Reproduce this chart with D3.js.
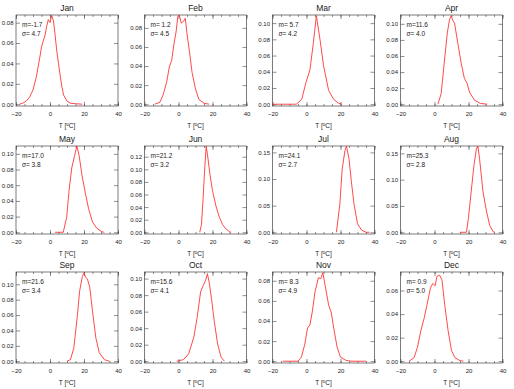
<!DOCTYPE html>
<html>
<head>
<meta charset="utf-8">
<script src="https://cdn.jsdelivr.net/npm/d3@7"></script>
<style>
  body { margin: 0; background: #fff; }
  svg { display: block; }
  text { font-family: "Liberation Sans", Arial, sans-serif; fill: #222; }
</style>
</head>
<body>
<div id="chart"></div>
<script>
// Monthly temperature PDFs.
var months = ['Jan', 'Feb', 'Mar', 'Apr', 'May', 'Jun', 'Jul', 'Aug', 'Sep', 'Oct', 'Nov', 'Dec'];
var means  = [-1.7, 1.2, 5.7, 11.6, 17.0, 21.2, 24.1, 25.3, 21.6, 15.6, 8.3, 0.9];
var sigmas = [4.7, 4.5, 4.2, 4.0, 3.8, 3.2, 2.7, 2.8, 3.4, 4.1, 4.9, 5.0];

// y axis range (top) and tick step for each panel
var yTops  = [0.0875, 0.0935, 0.110, 0.111, 0.110, 0.137, 0.162, 0.164, 0.116, 0.108, 0.0887, 0.0757];
var ySteps = [0.02, 0.02, 0.02, 0.02, 0.02, 0.02, 0.05, 0.05, 0.02, 0.02, 0.02, 0.02];
var xTicks = [-20, 0, 20, 40];

var jan = [[-18,0],[-16,0.001],[-14,0.003],[-12,0.007],[-10,0.014],[-8,0.027],[-6,0.046],[-5,0.056],
  [-4,0.062],[-3,0.067],[-2,0.076],[-1,0.083],[0,0.080],[1,0.087],[2,0.082],[3,0.068],[4,0.052],
  [5,0.040],[6,0.028],[7,0.017],[8,0.009],[10,0.003],[12,0.001],[15,0.0005],[19,0]];
var feb = [[-14,0],[-11,0.002],[-9,0.010],[-7,0.023],[-5.4,0.039],[-4,0.046],[-2.6,0.064],[-1.4,0.076],
  [-0.4,0.092],[0.4,0.094],[1.6,0.085],[3,0.087],[4,0.090],[5,0.074],[6.6,0.053],[8,0.033],
  [10,0.016],[12,0.005],[15,0.001],[18,0]];
var mar = [[-20,0],[-6,0],[-2.8,0.006],[-0.3,0.027],[2,0.042],[4,0.075],[5.8,0.109],[8,0.079],
  [10,0.048],[13,0.017],[16,0.006],[19,0.001],[21,0]];
var apr = [[2,0],[3.9,0.013],[5.9,0.055],[7.5,0.088],[8.8,0.105],[9.8,0.110],[10.8,0.104],[11.8,0.101],
  [13.7,0.076],[15.7,0.051],[17.6,0.032],[19.2,0.026],[20.6,0.015],[23.5,0.005],[27,0.001],[31,0]];
var may = [[3,0],[7.8,0],[9.8,0.019],[11.2,0.053],[12.8,0.082],[14.4,0.097],[15.8,0.110],[17.2,0.097],
  [18.7,0.074],[20.7,0.051],[22.7,0.030],[25,0.013],[27.6,0.005],[30.6,0.0005],[32,0]];
var jun = [[12.5,0],[13.5,0.012],[14.5,0.055],[15.5,0.105],[16.3,0.137],[17.3,0.118],[18.5,0.092],
  [20,0.066],[22,0.042],[24,0.024],[26,0.012],[28,0.005],[30,0.001],[31,0]];
var jul = [[17.6,0],[19.6,0.052],[21,0.119],[22.6,0.153],[23.5,0.162],[25,0.138],[26.4,0.095],
  [28,0.052],[30,0.016],[32.4,0.004],[35,0],[37,0]];
var aug = [[15,0],[18.8,0],[20,0.028],[21.6,0.078],[23.2,0.127],[24.6,0.158],[25.5,0.164],[26.5,0.140],
  [28.5,0.078],[30.5,0.041],[32.5,0.013],[34.5,0.001],[35.5,0]];
var sep = [[10,0],[12,0.002],[14,0.017],[16,0.057],[17.4,0.091],[19,0.110],[20,0.115],[21,0.109],
  [22,0.107],[23.4,0.096],[25,0.065],[27,0.030],[29,0.011],[32,0.002],[35,0]];
var oct = [[-1,0],[3,0.002],[6,0.009],[9,0.029],[11,0.053],[13,0.084],[14.6,0.092],[16,0.098],
  [17,0.106],[18,0.096],[19.4,0.076],[21,0.049],[23,0.021],[25,0.005],[27,0]];
var nov = [[-14,0],[-5,0],[-3,0.004],[-1,0.017],[0.6,0.033],[2,0.036],[3.4,0.049],[5,0.069],[7,0.083],
  [8.4,0.082],[9.6,0.088],[11,0.075],[13,0.056],[14.6,0.048],[16,0.033],[18,0.014],[20,0.004],
  [23,0.001],[26,0],[35,0]];
var dec = [[-15,0],[-12,0.003],[-10,0.012],[-8,0.026],[-6,0.037],[-4.4,0.048],[-2.4,0.062],[-1,0.066],
  [0.4,0.064],[1.4,0.072],[3,0.073],[4.4,0.069],[6,0.048],[8,0.026],[10,0.009],[12,0.003],
  [15,0.0005],[17,0]];
var series = [jan, feb, mar, apr, may, jun, jul, aug, sep, oct, nov, dec];

var WIDTH = 514, HEIGHT = 389;
var colLeft = [16, 144.5, 272.5, 400.5];
var rowTop = [15, 146, 272];
var rowH = [91, 88, 91];
var BOX_W = 102;
var LINE_COLOR = '#ff3535';

var svg = d3.select('#chart').append('svg')
    .attr('width', WIDTH)
    .attr('height', HEIGHT);

var pad4 = function(v) {
    var s = v.toFixed(1);
    while (s.length < 4) s = ' ' + s;
    return s;
};

months.forEach(function(name, i) {
    var col = i % 4, row = Math.floor(i / 4);
    var left = colLeft[col], top = rowTop[row], h = rowH[row];
    var yTop = yTops[i], step = ySteps[i];

    var x = d3.scaleLinear().domain([-20, 40]).range([0, BOX_W]);
    var y = d3.scaleLinear().domain([-0.02 * yTop, yTop]).range([h, 0]);

    var g = svg.append('g').attr('transform', 'translate(' + left + ',' + top + ')');

    var yVals = d3.range(0, yTop + 1e-9, step);
    var xMinor = d3.range(-20, 40.1, 5);

    // Axes: ticks point inward, like the original plot
    var styleAxis = function(sel) {
        sel.select('.domain').remove();
        sel.selectAll('line').attr('stroke', '#444').attr('stroke-width', 0.6);
        sel.selectAll('text')
            .style('font-size', '6px')
            .style('font-family', '"Liberation Sans", Arial, sans-serif')
            .attr('fill', '#333');
    };

    g.append('g').attr('transform', 'translate(0,' + h + ')')
        .call(d3.axisBottom(x).tickValues(xTicks).tickFormat(d3.format('d'))
            .tickSizeInner(-4).tickSizeOuter(0).tickPadding(6))
        .call(styleAxis);
    g.append('g').attr('transform', 'translate(0,' + h + ')')
        .call(d3.axisBottom(x).tickValues(xMinor).tickFormat('').tickSizeInner(-2).tickSizeOuter(0))
        .call(styleAxis);
    g.append('g')
        .call(d3.axisTop(x).tickValues(xTicks).tickFormat('').tickSizeInner(-4).tickSizeOuter(0))
        .call(styleAxis);
    g.append('g')
        .call(d3.axisTop(x).tickValues(xMinor).tickFormat('').tickSizeInner(-2).tickSizeOuter(0))
        .call(styleAxis);
    g.append('g')
        .call(d3.axisLeft(y).tickValues(yVals).tickFormat(d3.format('.2f'))
            .tickSizeInner(-4).tickSizeOuter(0).tickPadding(2.5))
        .call(styleAxis);
    g.append('g').attr('transform', 'translate(' + BOX_W + ',0)')
        .call(d3.axisRight(y).tickValues(yVals).tickFormat('').tickSizeInner(-4).tickSizeOuter(0))
        .call(styleAxis);

    g.append('rect')
        .attr('width', BOX_W).attr('height', h)
        .attr('fill', 'none').attr('stroke', '#444').attr('stroke-width', 0.7);

    // clip the curve to the box
    g.append('clipPath').attr('id', 'clip' + i)
        .append('rect').attr('width', BOX_W).attr('height', h);

    var line = d3.line()
        .x(function(d) { return x(d[0]); })
        .y(function(d) { return y(d[1]); });

    g.append('path')
        .datum(series[i])
        .attr('clip-path', 'url(#clip' + i + ')')
        .attr('d', line)
        .attr('fill', 'none')
        .attr('stroke', LINE_COLOR)
        .attr('stroke-width', 0.9);

    // month title
    g.append('text')
        .attr('x', BOX_W / 2).attr('y', -4)
        .attr('text-anchor', 'middle')
        .style('font-size', '8.5px')
        .text(name);

    // x axis label
    var xl = g.append('text')
        .attr('x', BOX_W / 2).attr('y', h + 22)
        .attr('text-anchor', 'middle')
        .style('font-size', '6.5px');
    xl.append('tspan').text('T [');
    xl.append('tspan').attr('dy', -2.5).style('font-size', '4.5px').text('o');
    xl.append('tspan').attr('dy', 2.5).text('C]');

    // mean / sigma annotation
    g.append('text')
        .attr('x', 6).attr('y', 12)
        .style('font-size', '6.5px')
        .style('white-space', 'pre')
        .text('m=' + pad4(means[i]));
    g.append('text')
        .attr('x', 6).attr('y', 21)
        .style('font-size', '6.5px')
        .style('white-space', 'pre')
        .text('\u03c3=' + pad4(sigmas[i]));
});
</script>
</body>
</html>
